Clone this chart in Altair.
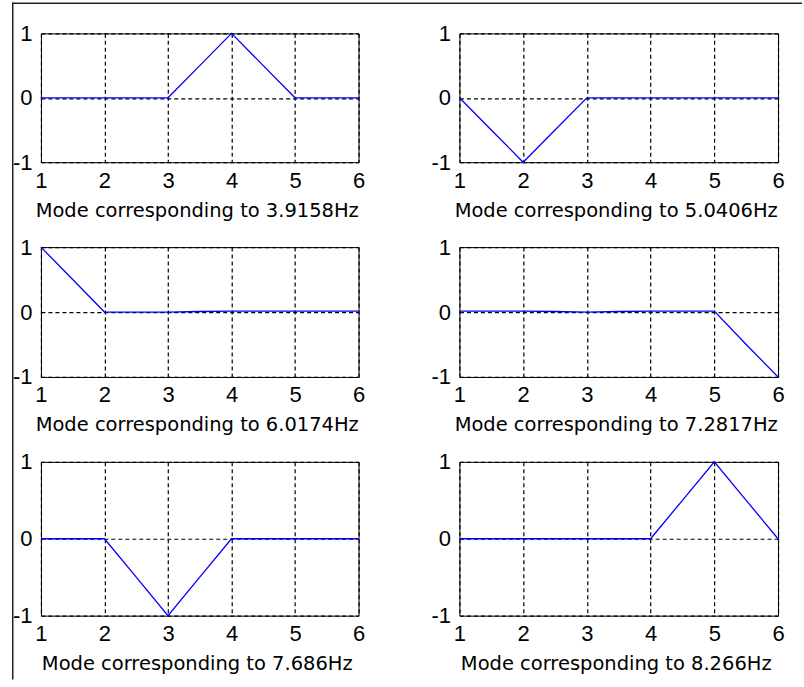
import altair as alt
import pandas as pd

# sample positions along the structure (mode shape sampled every half unit)
x_pos = [1, 1.5, 2, 2.5, 3, 3.5, 4, 4.5, 5, 5.5, 6]

freqs = ["3.9158", "5.0406", "6.0174", "7.2817", "7.686", "8.266"]

mode1 = [0, 0, 0, 0, 0, 0.5, 1, 0.5, 0, 0, 0]
mode2 = [0, -0.5, -1, -0.5, 0, 0, 0, 0, 0, 0, 0]
mode3 = [1, 0.5, 0, 0, 0, 0.008, 0.015, 0.015, 0.015, 0.015, 0.015]
mode4 = [0.015, 0.015, 0.015, 0.008, 0, 0.008, 0.015, 0.015, 0.015, -0.5, -1]
mode5 = [0, 0, 0, -0.5, -1, -0.5, 0, 0, 0, 0, 0]
mode6 = [0, 0, 0, 0, 0, 0, 0, 0.5, 1, 0.5, 0]

modes = [mode1, mode2, mode3, mode4, mode5, mode6]

x_ticks = [1, 2, 3, 4, 5, 6]
y_ticks = [-1, 0, 1]

col_widths = [318, 319]
row_heights = [129, 130, 154]


def panel(vals, freq, w, h, border=False):
    df = pd.DataFrame({"x": x_pos, "y": vals})
    line = alt.Chart(df).mark_line(color="#0000ff", strokeWidth=1.3).encode(
        x=alt.X(
            "x:Q",
            scale=alt.Scale(domain=[1, 6], nice=False, zero=False),
            axis=alt.Axis(
                values=x_ticks,
                title=f"Mode corresponding to {freq}Hz",
                titleX=w / 2 - 3,
                titleY=54,
                titleBaseline="alphabetic",
                titleAlign="center",
                labelPadding=8,
                labelAlign="center",
            ),
        ),
        y=alt.Y(
            "y:Q",
            scale=alt.Scale(domain=[-1, 1], nice=False, zero=False),
            axis=alt.Axis(
                values=y_ticks,
                title="",
                labelPadding=9,
                labelBaseline="middle",
                labelExpr="'' + datum.value",
            ),
        ),
    )
    layers = [line]
    if border:
        bdf = pd.DataFrame({"b": [0]})
        left = alt.Chart(bdf).mark_rule(color="#222222", strokeWidth=1.5).encode(
            x=alt.value(-28.25), y=alt.value(-31), y2=alt.value(647)
        )
        top = alt.Chart(bdf).mark_rule(color="#222222", strokeWidth=1.5).encode(
            y=alt.value(-30.25), x=alt.value(-29), x2=alt.value(762)
        )
        layers += [left, top]
    return alt.layer(*layers).properties(width=w, height=h)


panels = []
for i, (vals, f) in enumerate(zip(modes, freqs)):
    r, c = divmod(i, 2)
    panels.append(panel(vals, f, col_widths[c], row_heights[r], border=(i == 0)))

chart = alt.concat(
    *panels,
    columns=2,
    spacing={"row": 85, "column": 101},
    bounds="flush",
    align="each",
).properties(
    padding={"left": 10, "top": 0, "right": 0, "bottom": 0},
    background="white",
).configure_view(
    stroke="black", strokeWidth=1, fill="white"
).configure_axis(
    grid=True,
    gridColor="black",
    gridDash=[4, 3],
    gridWidth=1.2,
    gridOpacity=1,
    domain=False,
    ticks=False,
    labelFont="Liberation Sans",
    labelFontSize=22,
    labelColor="black",
    labelFlush=False,
    labelOverlap=False,
    titleFont="DejaVu Sans",
    titleFontSize=19.5,
    titleFontWeight="normal",
    titleColor="black",
)

chart.save("out.html", embed_options={"renderer": "svg", "actions": False})
